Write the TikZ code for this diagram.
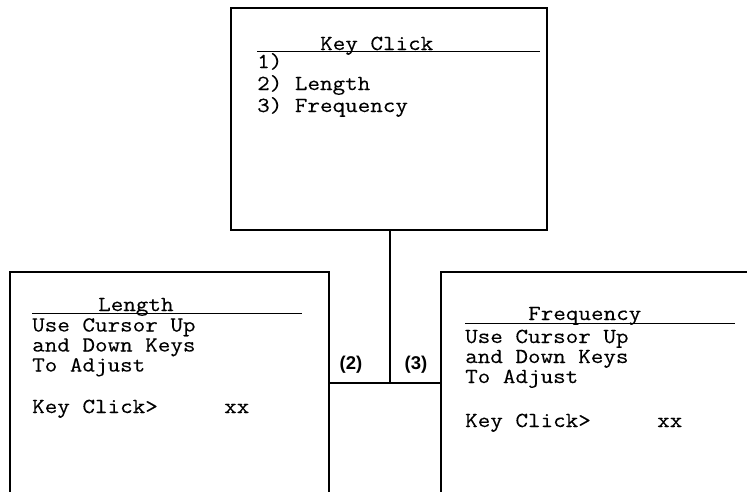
\documentclass[tikz,border=0pt]{standalone}
\usepackage{fontspec}
\newfontfamily\scr{Latin Modern Mono}[FakeStretch=1.14,FakeBold=0.25]
\newfontfamily\lab{Liberation Sans}
\begin{document}
\begin{tikzpicture}[x=1pt,y=-1pt,
  box/.style={draw, line width=1.6pt, inner sep=0pt, outer sep=0pt, anchor=north west},
  txt/.style={anchor=base west, inner sep=0pt, font=\scr\fontsize{21.4}{24}\selectfont},
  lbl/.style={anchor=base, inner sep=0pt, font=\lab\bfseries\fontsize{18.5}{20}\selectfont},
  rule/.style={line width=1.6pt},
  conn/.style={line width=1.6pt}]
\useasboundingbox (0,0) rectangle (747,491);
\clip (0,0) rectangle (747,491);
% boxes
\node[box, minimum width=316pt, minimum height=222pt] (menu) at (231,8) {};
\node[box, minimum width=319pt, minimum height=300pt] (len) at (10,272) {};
\node[box, minimum width=400pt, minimum height=300pt] (freq) at (441,272) {};
% top box contents
\node[txt] (t0) at (320,50) {Key Click};
\draw[rule] (257,51.5) -- (540,51.5);
\node[txt] (t1) at (257,68) {1)};
\node[txt] (t2) at (257,90) {2)\ Length};
\node[txt] (t3) at (257,112) {3)\ Frequency};
% left box contents
\node[txt] (l0) at (98,311) {Length};
\draw[rule] (32,313.5) -- (302,313.5);
\node[txt] (l1) at (32,331.5) {Use Cursor Up};
\node[txt] (l2) at (32,351.5) {and Down Keys};
\node[txt] (l3) at (32,371.5) {To Adjust};
\node[txt] (l4) at (32,413) {Key Click>};
\node[txt] (l5) at (224,413) {xx};
% right box contents
\node[txt] (r0) at (528,320) {Frequency};
\draw[rule] (465,323.5) -- (735,323.5);
\node[txt] (r1) at (465,343) {Use Cursor Up};
\node[txt] (r2) at (465,363) {and Down Keys};
\node[txt] (r3) at (465,383) {To Adjust};
\node[txt] (r4) at (465,427) {Key Click>};
\node[txt] (r5) at (657,427) {xx};
% connectors
\coordinate (j) at (390,383);
\draw[conn] (menu.south -| j) -- (j);
\draw[conn] (len.east |- j) -- (freq.west |- j);
\node[lbl] (c2) at (351,369.5) {(2)};
\node[lbl] (c3) at (416,369.5) {(3)};
\end{tikzpicture}
\end{document}
